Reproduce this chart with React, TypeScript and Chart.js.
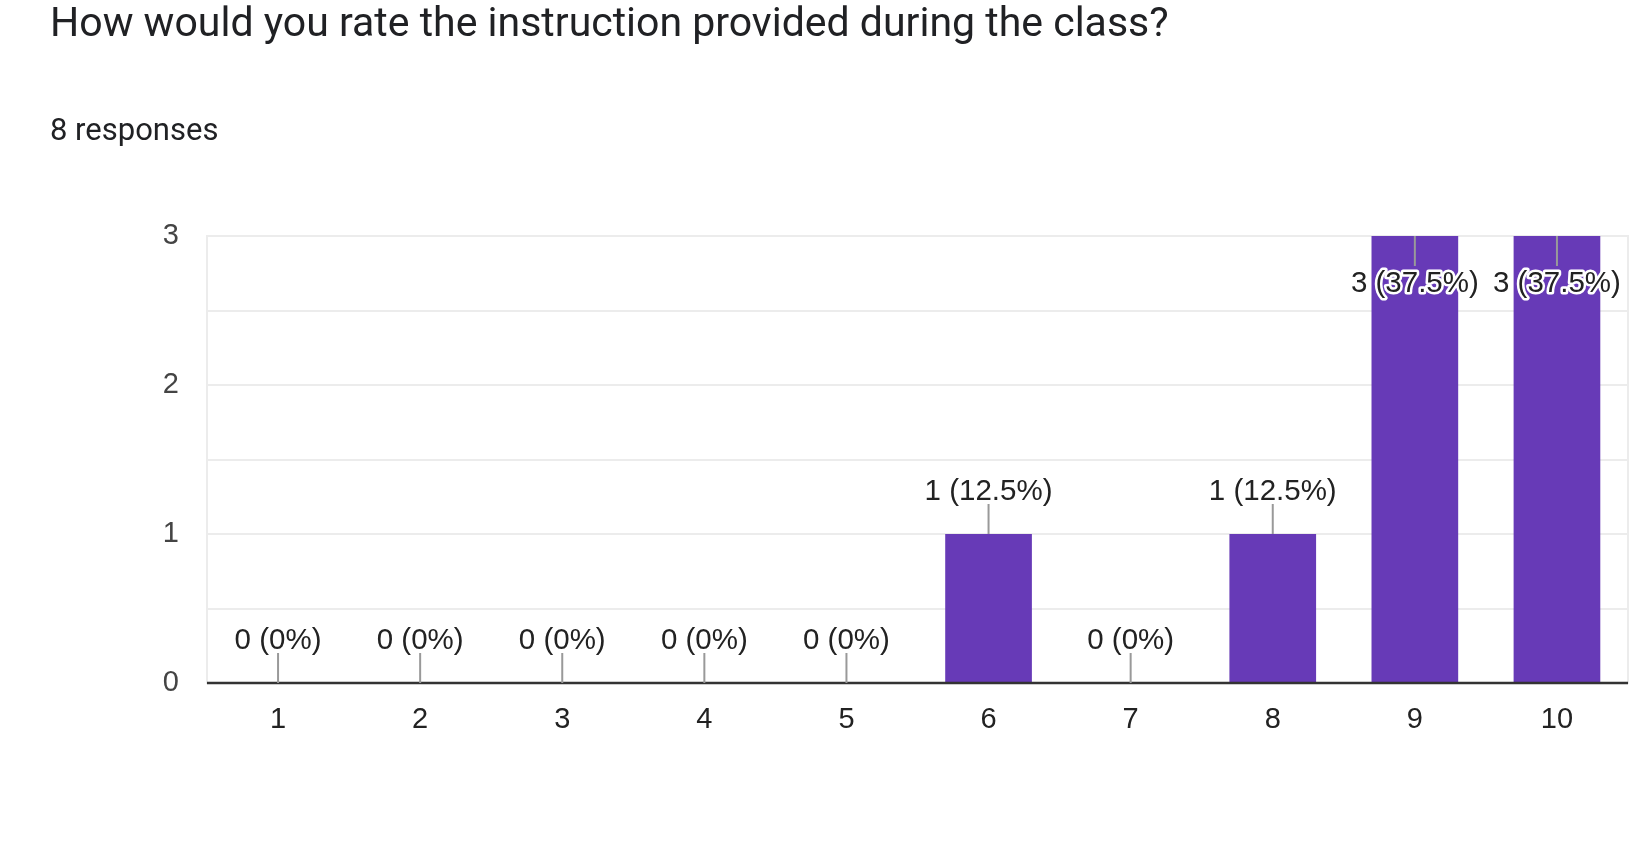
import React, { useEffect, useRef } from "react";
import { Chart, registerables } from "chart.js";

Chart.register(...registerables);

const TITLE = "How would you rate the instruction provided during the class?";
const SUBTITLE = "8 responses";
const categories = ["1", "2", "3", "4", "5", "6", "7", "8", "9", "10"];
const counts = [0, 0, 0, 0, 0, 1, 0, 1, 3, 3];
const totalResponses = 8;
const yTicks = [0, 1, 2, 3];

const FONT = "'Liberation Sans', Arial, sans-serif";

const frameAndLabels = {
  id: "frameAndLabels",
  beforeDatasetsDraw(chart: any) {
    const { ctx, chartArea } = chart;
    ctx.save();
    ctx.strokeStyle = "#ececec";
    ctx.lineWidth = 2;
    ctx.strokeRect(chartArea.left, chartArea.top, chartArea.right - chartArea.left, chartArea.bottom - chartArea.top);
    ctx.restore();
  },
  afterDatasetsDraw(chart: any) {
    const { ctx, chartArea } = chart;
    const yScale = chart.scales.y;
    const meta = chart.getDatasetMeta(0);
    ctx.save();
    const y0 = yScale.getPixelForValue(0);
    ctx.strokeStyle = "#333333";
    ctx.lineWidth = 2.5;
    ctx.beginPath();
    ctx.moveTo(chartArea.left, y0);
    ctx.lineTo(chartArea.right, y0);
    ctx.stroke();

    ctx.font = `29.5px ${FONT}`;
    ctx.textAlign = "center";
    ctx.textBaseline = "middle";
    counts.forEach((v, i) => {
      const x = meta.data[i].x;
      const top = yScale.getPixelForValue(v);
      const inside = top <= chartArea.top + 4;
      const pct = +((v / totalResponses) * 100).toFixed(1);
      const text = `${v} (${pct}%)`;
      ctx.strokeStyle = "#999999";
      ctx.lineWidth = 2;
      ctx.beginPath();
      if (inside) {
        ctx.moveTo(x, top);
        ctx.lineTo(x, top + 30);
      } else {
        ctx.moveTo(x, top);
        ctx.lineTo(x, top - 30);
      }
      ctx.stroke();
      const ty = inside ? top + 48 : top - 42;
      ctx.lineJoin = "round";
      ctx.strokeStyle = "#ffffff";
      ctx.lineWidth = 5;
      ctx.strokeText(text, x, ty);
      ctx.fillStyle = "#222222";
      ctx.fillText(text, x, ty);
    });
    ctx.restore();
  },
};

export default function App() {
  const ref = useRef<HTMLCanvasElement>(null);
  useEffect(() => {
    if (!ref.current) return;
    const chart = new Chart(ref.current, {
      type: "bar",
      data: {
        labels: categories,
        datasets: [
          {
            data: counts,
            backgroundColor: "#673ab7",
            borderWidth: 0,
            barPercentage: 0.61,
            categoryPercentage: 1,
          },
        ],
      },
      options: {
        responsive: false,
        animation: false,
        layout: { padding: { left: 0, top: 236, right: 22, bottom: 85 } },
        plugins: { legend: { display: false }, tooltip: { enabled: false }, title: { display: false } },
        scales: {
          x: {
            grid: { display: false, drawTicks: false },
            border: { display: false },
            ticks: { color: "#222222", font: { family: FONT, size: 29 }, padding: 20 },
            afterFit(scale: any) {
              scale.height = 80;
            },
          },
          y: {
            min: yTicks[0],
            max: yTicks[yTicks.length - 1],
            grid: { color: "#ececec", lineWidth: 2, drawTicks: false },
            border: { display: false },
            ticks: {
              stepSize: 0.5,
              color: "#444444",
              font: { family: FONT, size: 29 },
              padding: 28,
              callback: (val: any) => (yTicks.includes(Number(val)) ? String(val) : ""),
            },
            afterFit(scale: any) {
              scale.width = 207;
            },
          },
        },
      },
      plugins: [frameAndLabels],
    });
    return () => chart.destroy();
  }, []);

  return (
    <div style={{ position: "fixed", left: 0, top: 0, width: 1650, height: 848, background: "#fff" }}>
      <div
        style={{
          position: "absolute",
          left: 50,
          top: 0,
          fontFamily: "Roboto, sans-serif",
          fontSize: 41,
          lineHeight: "44px",
          color: "#202124",
          whiteSpace: "nowrap",
        }}
      >
        {TITLE}
      </div>
      <div
        style={{
          position: "absolute",
          left: 50,
          top: 114,
          fontFamily: "Roboto, sans-serif",
          fontSize: 31,
          lineHeight: "32px",
          color: "#202124",
          whiteSpace: "nowrap",
        }}
      >
        {SUBTITLE}
      </div>
      <canvas ref={ref} width={1650} height={848} style={{ position: "absolute", left: 0, top: 0 }} />
    </div>
  );
}
